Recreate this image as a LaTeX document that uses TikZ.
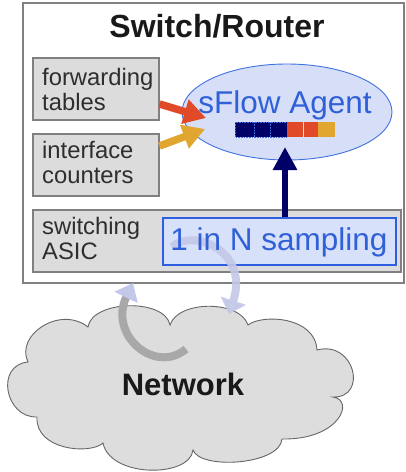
\documentclass[tikz,border=0pt]{standalone}
\usepackage{fontspec}
\setmainfont{Liberation Sans}
\usetikzlibrary{arrows.meta,shapes.geometric}
\definecolor{boxfill}{HTML}{DCDCDC}
\definecolor{boxline}{HTML}{808080}
\definecolor{txtdark}{HTML}{2E2E2E}
\definecolor{agentblue}{HTML}{3060D8}
\definecolor{agentfill}{HTML}{D6DEF8}
\definecolor{agentline}{HTML}{4272E0}
\definecolor{sampfill}{HTML}{D8E1FA}
\definecolor{sampline}{HTML}{2F5FE0}
\definecolor{arrred}{HTML}{E04A28}
\definecolor{arrgold}{HTML}{E0A630}
\definecolor{navy}{HTML}{000066}
\definecolor{lav}{HTML}{C4C8E8}
\definecolor{arcgray}{HTML}{A8A8A8}
\definecolor{cloudfill}{HTML}{DDDDDD}
\definecolor{cloudline}{HTML}{666666}
\tikzset{
  outerbox/.style={draw=boxline, line width=1.3pt, fill=white, inner sep=0pt},
  graybox/.style={draw=boxline, line width=1.1pt, fill=boxfill, inner sep=0pt},
  smalltxt/.style={text=txtdark, align=left, inner sep=0pt, font=\fontsize{23.8}{24.5}\selectfont},
  bigblue/.style={text=agentblue, inner sep=0pt, font=\fontsize{31.5}{31.5}\selectfont},
  fatarrow/.style={line width=7.5pt},
}
\begin{document}
\begin{tikzpicture}[x=1pt,y=-1pt]
\useasboundingbox (0,0) rectangle (405,472);
% cloud
\draw[fill=cloudfill, draw=cloudline, line width=0.9pt]
  (88,327) .. controls (92,300) and (165,298) .. (170,325)
  .. controls (178,300) and (240,300) .. (248,325)
  .. controls (262,314) and (315,316) .. (317,350)
  .. controls (355,340) and (368,398) .. (333,397)
  .. controls (355,400) and (340,440) .. (282,439)
  .. controls (280,465) and (200,470) .. (193,450)
  .. controls (190,478) and (110,478) .. (103,443)
  .. controls (90,455) and (35,450) .. (37,417)
  .. controls (5,418) and (-5,365) .. (28,362)
  .. controls (15,335) and (60,305) .. (88,327) -- cycle;
\node[inner sep=0pt, anchor=base, font=\bfseries\fontsize{31}{31}\selectfont, text=black!90] (net) at (183,395) {Network};
% switch box
\node[outerbox, minimum width=381pt, minimum height=280pt] (sw) at (213.5,143) {};
\node[inner sep=0pt, anchor=base, font=\bfseries\fontsize{32}{32}\selectfont, text=black!90] (title) at (217,37) {Switch/Router};
\node[graybox, minimum width=126pt, minimum height=62pt] (fwd) at (96,89) {};
\node[smalltxt, anchor=west] (fwdtxt) at (42,89.3) {forwarding\\tables};
\node[graybox, minimum width=126pt, minimum height=62pt] (ifc) at (96,165) {};
\node[smalltxt, anchor=west] (ifctxt) at (42,162.3) {interface\\counters};
\node[graybox, minimum width=368pt, minimum height=62pt] (asic) at (217,241) {};
\node[smalltxt, anchor=west] (asictxt) at (42,238.3) {switching\\ASIC};
% agent
\node[ellipse, draw=agentline, line width=0.9pt, fill=agentfill, minimum width=210pt, minimum height=96pt, inner sep=0pt] (agent) at (287,112) {};
\node[bigblue, anchor=base] (agenttxt) at (285,113) {sFlow Agent};
\fill[navy] (235,122) rectangle (287,137);
\fill[arrred] (287,122) rectangle (318,137);
\fill[arrgold] (318,122) rectangle (335,137);
\draw[agentline, densely dotted, line width=0.6pt] (235,122) rectangle (287,137) (254,122) -- (254,137) (270,122) -- (270,137);
\draw[white!80!arrred, line width=0.6pt] (303,122) -- (303,137);
% red and gold arrows
\coordinate (rtip) at (206,118);
\coordinate (gtip) at (205,129);
\draw[arrred, fatarrow, -{Triangle[length=22pt,width=24pt]}] ([yshift=-15pt]fwd.east) -- (rtip);
\draw[arrgold, fatarrow, -{Triangle[length=22pt,width=24pt]}] ([yshift=19pt]ifc.east) -- (gtip);
% sampling
\node[draw=sampline, line width=1.3pt, fill=sampfill, minimum width=233pt, minimum height=47pt, inner sep=0pt] (samp) at (279.5,241.5) {};
\draw[lav, line width=8pt, opacity=0.9, -{Triangle[length=14pt,width=26pt]}]
  (172,247) .. controls (192,228) and (250,250) .. (229,314);
\node[bigblue, anchor=base] (samptxt) at (279,250) {1 in N sampling};
\coordinate (ntip) at (285,147);
\draw[navy, line width=6.5pt, -{Triangle[length=23pt,width=23pt]}] (samp.north -| ntip) -- (ntip);
% return arc
\draw[arcgray, line width=8pt, -{Triangle[length=16pt,width=25pt,color=lav,fill=lav]}]
  (186,349) .. controls (155,375) and (108,335) .. (133,283);
\end{tikzpicture}
\end{document}
